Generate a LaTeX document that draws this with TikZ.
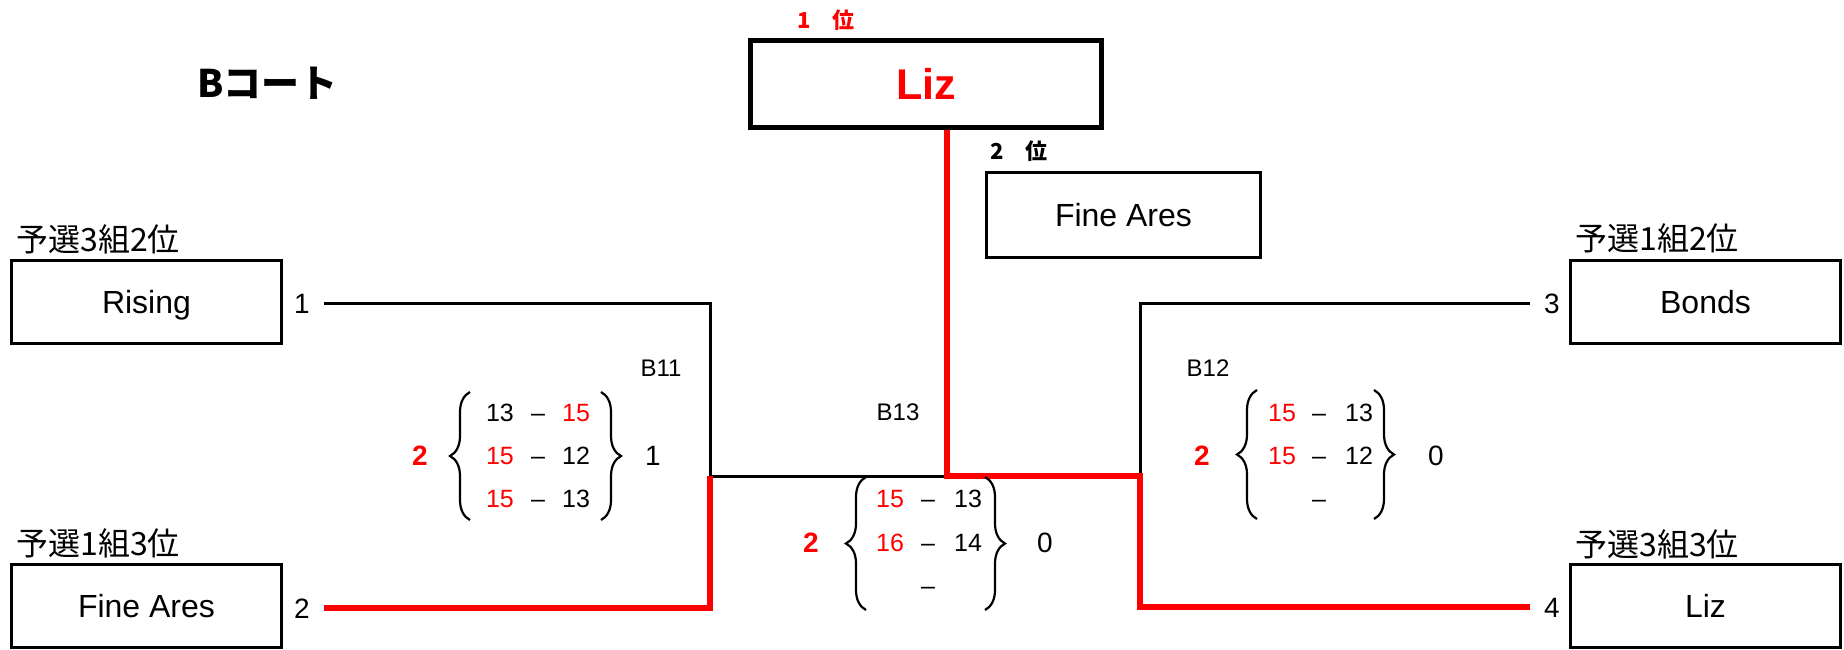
\documentclass[tikz,border=0pt]{standalone}
\usepackage{fontspec}
\setmainfont{Liberation Sans}
\newfontfamily\jp{Noto Sans CJK JP}
\usetikzlibrary{decorations.pathreplacing}
\definecolor{wred}{RGB}{255,0,0}
\tikzset{
  team/.style={draw, line width=1.5pt, minimum width=135pt, minimum height=41.5pt, inner sep=0pt, text height=11.5pt, text depth=0pt, font=\fontsize{16}{16}\selectfont},
  grp/.style={anchor=west, inner sep=0pt, font=\jp\fontsize{16}{16}\selectfont},
  seed/.style={inner sep=0pt, text height=10pt, text depth=0pt, font=\fontsize{14}{14}\selectfont},
  blk/.style={line width=1.5pt},
  win/.style={line width=3.4pt, wred},
  sc/.style={inner sep=0pt, text height=9pt, text depth=0pt, font=\fontsize{12.5}{12.5}\selectfont},
  scr/.style={sc, text=wred},
  games/.style={inner sep=0pt, text height=10pt, text depth=0pt, font=\bfseries\fontsize{14}{14}\selectfont, text=wred},
  lost/.style={inner sep=0pt, text height=10pt, text depth=0pt, font=\fontsize{14}{14}\selectfont},
  mlabel/.style={inner sep=0pt, text height=8.6pt, text depth=0pt, font=\fontsize{12}{12}\selectfont},
  rank/.style={inner sep=0pt, font=\jp\bfseries\fontsize{11}{11}\selectfont},
  brc/.style={decorate, decoration={brace, amplitude=10pt}, line width=1.1pt},
}
\begin{document}
\begin{tikzpicture}[x=0.5pt,y=-0.5pt]
\useasboundingbox (0,0) rectangle (1844,649);
\fill[white] (0,0) rectangle (1844,649);

% title
\node[anchor=west, inner sep=0pt, font=\jp\bfseries\fontsize{19}{19}\selectfont] (title) at (197,83) {Bコート};

% champion and runner-up
\node[rank, text=wred] (r1) at (826,20) {1　位};
\node[draw, line width=2.5pt, minimum width=175.5pt, minimum height=43.5pt, inner sep=0pt, text height=15pt, text depth=0pt, text=wred, font=\bfseries\fontsize{21.5}{21.5}\selectfont] (champ) at (926,84) {Liz};
\node[rank] (r2) at (1019,151) {2　位};
\node[draw, line width=1.5pt, minimum width=137pt, minimum height=42.5pt, inner sep=0pt, text height=11.5pt, text depth=0pt, font=\fontsize{16}{16}\selectfont] (second) at (1123.5,215) {Fine Ares};

% teams
\node[grp] (g1) at (16,239) {予選3組2位};
\node[team] (t1) at (146.5,302) {Rising};
\node[grp] (g2) at (16,543) {予選1組3位};
\node[team] (t2) at (146.5,606) {Fine Ares};
\node[grp] (g3) at (1575,238) {予選1組2位};
\node[team] (t3) at (1705.5,302) {Bonds};
\node[grp] (g4) at (1575,544) {予選3組3位};
\node[team] (t4) at (1705.5,606) {Liz};

% seeds
\node[seed] (n1) at (302,303) {1};
\node[seed] (n2) at (302,608) {2};
\node[seed] (n3) at (1552,303) {3};
\node[seed] (n4) at (1552,607) {4};

% bracket joints
\coordinate (m11) at (710,476);
\coordinate (m12) at (1140,476);
\coordinate (m13) at (947,476);

\draw[blk] ([xshift=7pt]n1.east) -| (m11) -- (m13);
\draw[blk] ([xshift=-7pt]n3.west) -| (m12);
\draw[win] ([xshift=7pt]n2.east) -| (m11);
\draw[win] ([xshift=-7pt]n4.west) -| (m12) -- (m13) -- (champ.south -| m13);

% match labels
\node[mlabel] (b11) at (661,368) {B11};
\node[mlabel] (b12) at (1208,368) {B12};
\node[mlabel] (b13) at (898,412) {B13};

% B11 scores
\draw[brc] (470,520) -- (470,392);
\draw[brc] (601,392) -- (601,520);
\node[sc]  (a1l) at (500,412) {13};
\node[sc]  (a1d) at (538,412) {–};
\node[scr] (a1r) at (576,412) {15};
\node[scr] (a2l) at (500,455) {15};
\node[sc]  (a2d) at (538,455) {–};
\node[sc]  (a2r) at (576,455) {12};
\node[scr] (a3l) at (500,498) {15};
\node[sc]  (a3d) at (538,498) {–};
\node[sc]  (a3r) at (576,498) {13};
\node[games] (aw) at (420,455) {2};
\node[lost]  (al) at (653,455) {1};

% B13 scores
\draw[brc] (866,610) -- (866,477);
\draw[brc] (985,477) -- (985,610);
\node[scr] (c1l) at (890,498) {15};
\node[sc]  (c1d) at (928,498) {–};
\node[sc]  (c1r) at (968,498) {13};
\node[scr] (c2l) at (890,542) {16};
\node[sc]  (c2d) at (928,542) {–};
\node[sc]  (c2r) at (968,542) {14};
\node[sc]  (c3d) at (928,585) {–};
\node[games] (cw) at (811,542) {2};
\node[lost]  (cl) at (1045,542) {0};

% B12 scores
\draw[brc] (1257,519) -- (1257,390);
\draw[brc] (1374,390) -- (1374,519);
\node[scr] (e1l) at (1282,412) {15};
\node[sc]  (e1d) at (1319,412) {–};
\node[sc]  (e1r) at (1359,412) {13};
\node[scr] (e2l) at (1282,455) {15};
\node[sc]  (e2d) at (1319,455) {–};
\node[sc]  (e2r) at (1359,455) {12};
\node[sc]  (e3d) at (1319,498) {–};
\node[games] (ew) at (1202,455) {2};
\node[lost]  (el) at (1436,455) {0};
\end{tikzpicture}
\end{document}
